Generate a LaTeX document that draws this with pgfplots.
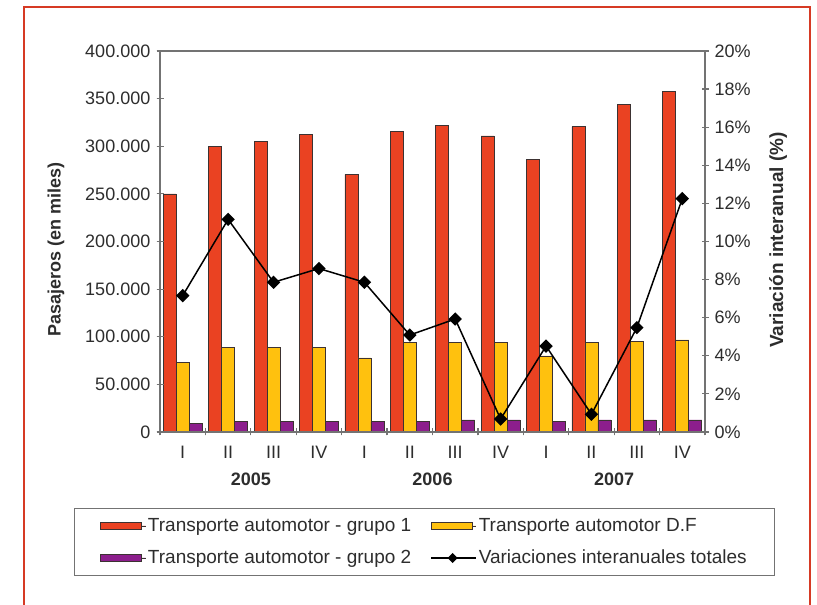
\documentclass[border=0pt]{standalone}
\usepackage{pgfplots}
\pgfplotsset{compat=1.18}
\usepackage{fontspec}
\setmainfont{Liberation Sans}
\definecolor{barred}{RGB}{234,66,34}
\definecolor{baryel}{RGB}{255,193,14}
\definecolor{barpur}{RGB}{140,30,140}
\definecolor{axgray}{RGB}{115,115,115}
\definecolor{txt}{RGB}{45,45,45}
\definecolor{framered}{RGB}{214,58,36}
\definecolor{baredge}{RGB}{60,50,50}

\pgfplotsset{
  linelegend/.style={legend image code/.code={\path (0pt,0pt) -- (45pt,0pt); \draw[##1, mark=none] (0pt,0pt) -- (43pt,0pt); \draw[##1, only marks] plot coordinates {(21.5pt,0pt)};}},
  barlegend/.style={legend image code/.code={\path (0pt,0pt) -- (45pt,0pt); \draw[##1, line width=0.8pt] (0pt,-3.5pt) rectangle (41pt,3.5pt);}},
}
\tikzset{
  qlab/.style={text=txt, anchor=center, yshift=-20pt, font=\fontsize{18pt}{21pt}\selectfont},
  yearlab/.style={text=txt, anchor=center, yshift=-47pt, font=\fontsize{18pt}{21pt}\selectfont\bfseries},
}

\pgfplotstableread{
x red yel pur
0 250000 73000 9000
1 300000 89000 11000
2 305000 89000 11000
3 312500 89000 11000
4 270500 77700 11000
5 316000 93800 11000
6 321600 93800 12600
7 310800 93800 12600
8 286000 79800 11000
9 320600 93800 12600
10 343600 94800 12600
11 357600 96600 12600
}\bardata

\pgfplotstableread{
x var
0 7.16
1 11.16
2 7.86
3 8.58
4 7.86
5 5.09
6 5.93
7 0.68
8 4.51
9 0.93
10 5.48
11 12.25
}\linedata

\begin{document}
\fontsize{18pt}{21pt}\selectfont
\begin{tikzpicture}[font=\fontsize{18pt}{21pt}\selectfont]
\useasboundingbox (0,0) rectangle (817pt,605pt);
\draw[framered, line width=2.5pt] (24pt,-3pt) -- (24pt,598pt) -- (810pt,598pt) -- (810pt,-3pt);

\begin{axis}[
  at={(160pt,173pt)}, anchor=south west,
  scale only axis, width=545pt, height=381pt,
  xmin=-0.5, xmax=11.5, ymin=0, ymax=400000,
  clip=false,
  axis x line*=bottom, axis y line*=left,
  axis line style={axgray, line width=1.5pt},
  every tick/.style={axgray, line width=1.2pt},
  tick align=center, major tick length=7pt,
  xtick={-0.5,0.5,...,11.5},
  xticklabels={},
  ytick={0,50000,100000,150000,200000,250000,300000,350000,400000},
  yticklabels={0,50.000,100.000,150.000,200.000,250.000,300.000,350.000,400.000},
  scaled y ticks=false,
  tick label style={text=txt},
  ylabel={\bfseries Pasajeros (en miles)},
  ylabel style={at={(axis description cs:-0.191,0.478)}, anchor=center, text=txt},
  legend columns=2,
  legend cell align=left,
  legend style={at={(axis description cs:0.4853,-0.289)}, anchor=center,
    draw=axgray, line width=1pt, text=txt, inner xsep=26pt, inner ysep=7pt,
    font=\fontsize{19pt}{22pt}\selectfont,
    /tikz/every even column/.append style={column sep=17pt},
    row sep=12pt},
  barlegend,
]
\addplot[ybar, bar width=13pt, bar shift=-13pt, fill=barred, draw=baredge, line width=0.6pt] table[x=x, y=red] {\bardata};
\addlegendentry{Transporte automotor - grupo 1}
\addplot[ybar, bar width=13pt, bar shift=0pt, fill=baryel, draw=baredge, line width=0.6pt] table[x=x, y=yel] {\bardata};
\addlegendentry{Transporte automotor D.F}
\addplot[ybar, bar width=13pt, bar shift=13pt, fill=barpur, draw=baredge, line width=0.6pt] table[x=x, y=pur] {\bardata};
\addlegendentry{Transporte automotor - grupo 2}
\addlegendimage{black, line width=1.5pt, mark=square*, mark options={rotate=45}, mark size=2.8pt, linelegend}
\addlegendentry{Variaciones interanuales totales}
\node[qlab] at (axis cs:0,0) {I};
\node[qlab] at (axis cs:1,0) {II};
\node[qlab] at (axis cs:2,0) {III};
\node[qlab] at (axis cs:3,0) {IV};
\node[qlab] at (axis cs:4,0) {I};
\node[qlab] at (axis cs:5,0) {II};
\node[qlab] at (axis cs:6,0) {III};
\node[qlab] at (axis cs:7,0) {IV};
\node[qlab] at (axis cs:8,0) {I};
\node[qlab] at (axis cs:9,0) {II};
\node[qlab] at (axis cs:10,0) {III};
\node[qlab] at (axis cs:11,0) {IV};
\node[yearlab] at (axis cs:1.5,0) {2005};
\node[yearlab] at (axis cs:5.5,0) {2006};
\node[yearlab] at (axis cs:9.5,0) {2007};
\end{axis}

\begin{axis}[
  at={(160pt,173pt)}, anchor=south west,
  scale only axis, width=545pt, height=381pt,
  xmin=-0.5, xmax=11.5, ymin=0, ymax=400000,
  axis x line*=bottom, axis y line*=left,
  axis line style={axgray, line width=1.5pt},
  every tick/.style={axgray, line width=1.2pt},
  tick align=center, major tick length=7pt,
  xtick={-0.5,0.5,...,11.5},
  xticklabels={},
  ytick={0,50000,100000,150000,200000,250000,300000,350000,400000},
  yticklabels={},
  scaled y ticks=false,
]
\end{axis}

\begin{axis}[
  at={(160pt,173pt)}, anchor=south west,
  scale only axis, width=545pt, height=381pt,
  xmin=-0.5, xmax=11.5, ymin=0, ymax=20,
  axis x line*=top, xtick=\empty,
  axis y line*=right,
  axis line style={axgray, line width=1.5pt},
  every tick/.style={axgray, line width=1.2pt},
  tick align=center, major tick length=7pt,
  ytick={0,2,4,6,8,10,12,14,16,18,20},
  yticklabels={0\%,2\%,4\%,6\%,8\%,10\%,12\%,14\%,16\%,18\%,20\%},
  tick label style={text=txt},
  ylabel={\bfseries Variación interanual (\%)},
  ylabel style={at={(axis description cs:1.134,0.504)}, anchor=center, text=txt, font=\fontsize{19pt}{22pt}\selectfont},
]
\addplot[black, line width=1.5pt, mark=square*, mark options={rotate=45}, mark size=4pt] table[x=x, y=var] {\linedata};
\end{axis}
\end{tikzpicture}
\end{document}
